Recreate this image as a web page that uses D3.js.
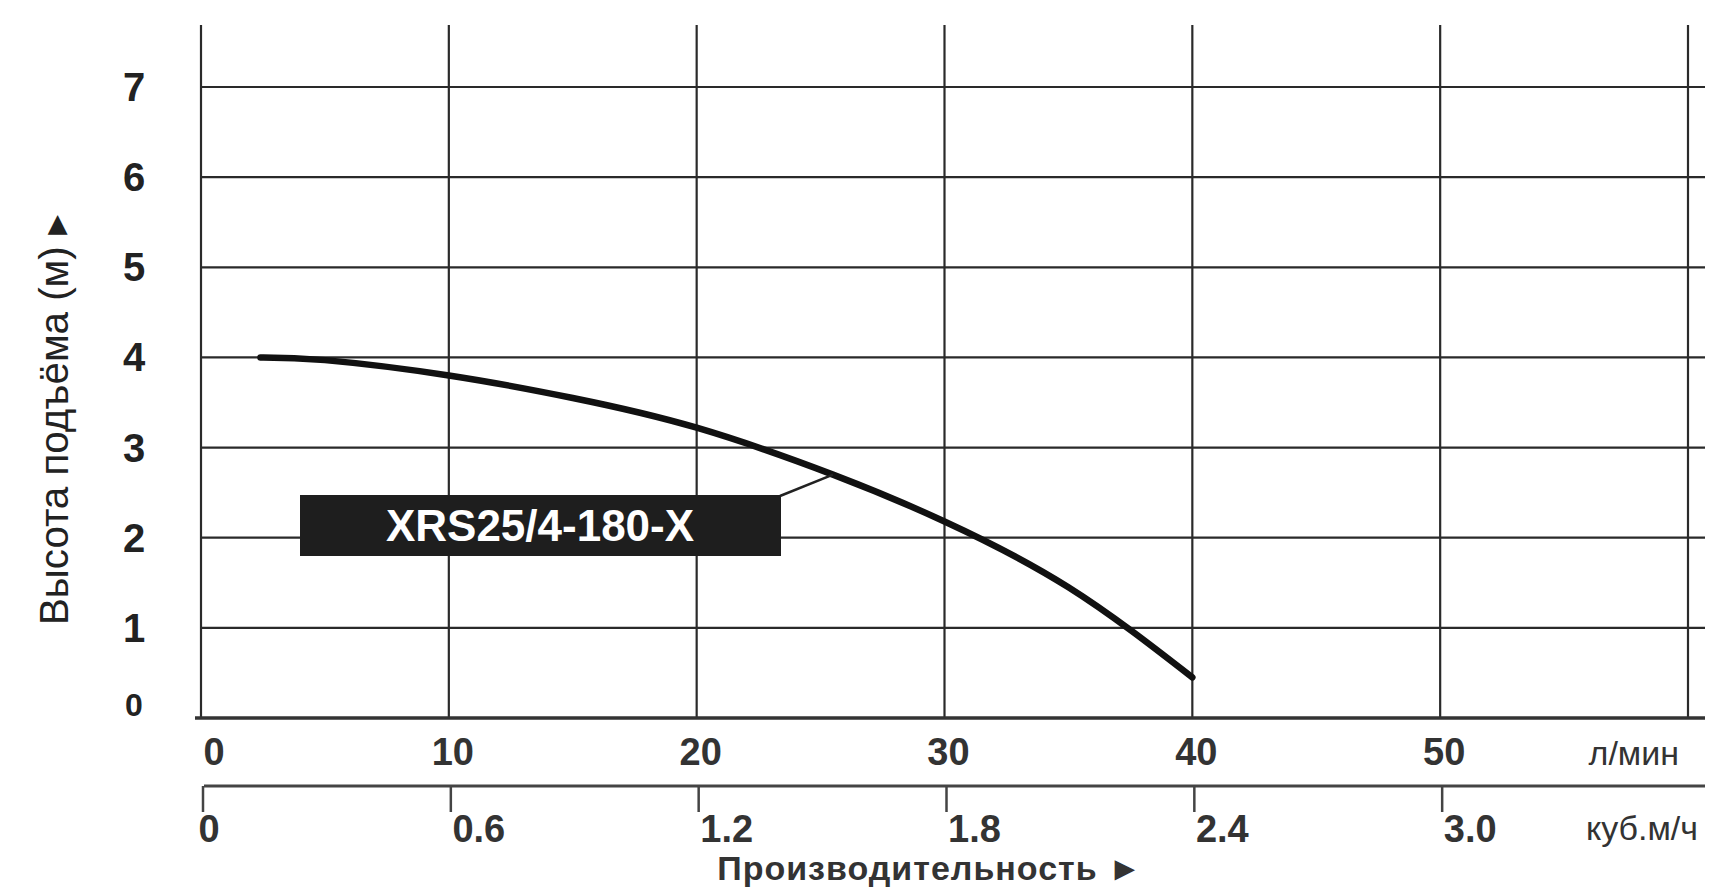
<!DOCTYPE html>
<html><head><meta charset="utf-8">
<script src="https://cdn.jsdelivr.net/npm/d3@7"></script>
<style>body{margin:0;background:#fff}svg{display:block}</style>
</head><body><div id="chart"></div>
<script>
// flow in l/min, head in m
var flowLmin = [2.4, 5, 10, 15, 20, 25.5, 30, 35, 40];
var headM    = [4.0, 3.97, 3.8, 3.55, 3.22, 2.7, 2.18, 1.45, 0.45];
var yTicks = [0, 1, 2, 3, 4, 5, 6, 7];
var lminTicks = [0, 10, 20, 30, 40, 50];
var m3hTicks = ["0", "0.6", "1.2", "1.8", "2.4", "3.0"];
var modelName = "XRS25/4-180-X";
var labelAt = 5; // index of curve point the leader points to

var W = 1733, H = 891;
var x = d3.scaleLinear().domain([0, 60]).range([201, 1688]);
var y = d3.scaleLinear().domain([0, 7]).range([718, 87]);
var font = "'Liberation Sans', Arial, sans-serif";

var svg = d3.select("#chart").append("svg").attr("width", W).attr("height", H);

// vertical grid
svg.append("g").selectAll("line").data(d3.range(0, 61, 10)).join("line")
  .attr("x1", d => x(d)).attr("x2", d => x(d)).attr("y1", 25).attr("y2", y(0))
  .attr("stroke", "#2a2a2a").attr("stroke-width", 2.2);
// horizontal grid
svg.append("g").selectAll("line").data(yTicks.slice(1)).join("line")
  .attr("x1", x(0)).attr("x2", 1705).attr("y1", d => y(d)).attr("y2", d => y(d))
  .attr("stroke", "#2a2a2a").attr("stroke-width", 2.2);
svg.append("line").attr("x1", x(0) - 6).attr("x2", 1705).attr("y1", y(0)).attr("y2", y(0))
  .attr("stroke", "#333").attr("stroke-width", 3.5);

// y labels
svg.append("g").selectAll("text").data(yTicks).join("text")
  .attr("x", 134).attr("y", d => y(d) + (d === 0 ? -2 : 14))
  .attr("text-anchor", "middle").attr("font-family", font).attr("font-weight", "bold")
  .attr("font-size", d => d === 0 ? 32 : 40).attr("fill", "#222").text(d => d);

svg.append("text").attr("transform", "translate(68,420) rotate(-90)")
  .attr("text-anchor", "middle").attr("font-family", "'Liberation Sans Narrow', " + font)
  .attr("font-stretch", "condensed").attr("font-size", 40).attr("fill", "#222")
  .attr("textLength", 410).attr("lengthAdjust", "spacingAndGlyphs")
  .text("Высота подъёма (м) ▸");

// l/min axis
svg.append("g").selectAll("text").data(lminTicks).join("text")
  .attr("x", d => d === 0 ? x(d) + 13 : x(d) + 4).attr("y", 765)
  .attr("text-anchor", "middle").attr("font-family", font).attr("font-weight", "bold")
  .attr("font-size", 38).attr("fill", "#333").text(d => d);
svg.append("text").attr("x", 1679).attr("y", 765).attr("text-anchor", "end")
  .attr("font-family", font).attr("font-size", 34).attr("fill", "#333").text("л/мин");

// m3/h axis (0.6 m3/h = 10 l/min)
svg.append("line").attr("x1", 204).attr("x2", 1705).attr("y1", 786).attr("y2", 786)
  .attr("stroke", "#444").attr("stroke-width", 3);
svg.append("g").selectAll("line").data(m3hTicks).join("line")
  .attr("x1", d => x(+d / 0.06) + 2).attr("x2", d => x(+d / 0.06) + 2)
  .attr("y1", 786).attr("y2", 812).attr("stroke", "#444").attr("stroke-width", 2.5);
svg.append("g").selectAll("text").data(m3hTicks).join("text")
  .attr("x", d => +d === 0 ? x(0) + 8 : x(+d / 0.06) + 30).attr("y", 842)
  .attr("text-anchor", "middle").attr("font-family", font).attr("font-weight", "bold")
  .attr("font-size", 38).attr("fill", "#333").text(d => d);
svg.append("text").attr("x", 1698).attr("y", 840).attr("text-anchor", "end")
  .attr("font-family", font).attr("font-size", 34).attr("fill", "#333").text("куб.м/ч");

svg.append("text").attr("x", 930).attr("y", 880).attr("text-anchor", "middle")
  .attr("font-family", font).attr("font-weight", "bold").attr("font-size", 34)
  .attr("fill", "#333").attr("letter-spacing", 1).text("Производительность  ►");

// curve
var pts = flowLmin.map((f, i) => [f, headM[i]]);
svg.append("path").datum(pts)
  .attr("d", d3.line().x(d => x(d[0])).y(d => y(d[1])).curve(d3.curveNatural))
  .attr("fill", "none").attr("stroke", "#111").attr("stroke-width", 6.5).attr("stroke-linecap", "round");

// label
svg.append("line").attr("x1", 780).attr("y1", 496)
  .attr("x2", x(flowLmin[labelAt])).attr("y2", y(headM[labelAt]))
  .attr("stroke", "#222").attr("stroke-width", 2.5);
svg.append("rect").attr("x", 300).attr("y", 495).attr("width", 481).attr("height", 61).attr("fill", "#1e1e1e");
svg.append("text").attr("x", 540).attr("y", 541).attr("text-anchor", "middle")
  .attr("font-family", font).attr("font-weight", "bold").attr("font-size", 44)
  .attr("fill", "#fff").text(modelName);
</script></body></html>
